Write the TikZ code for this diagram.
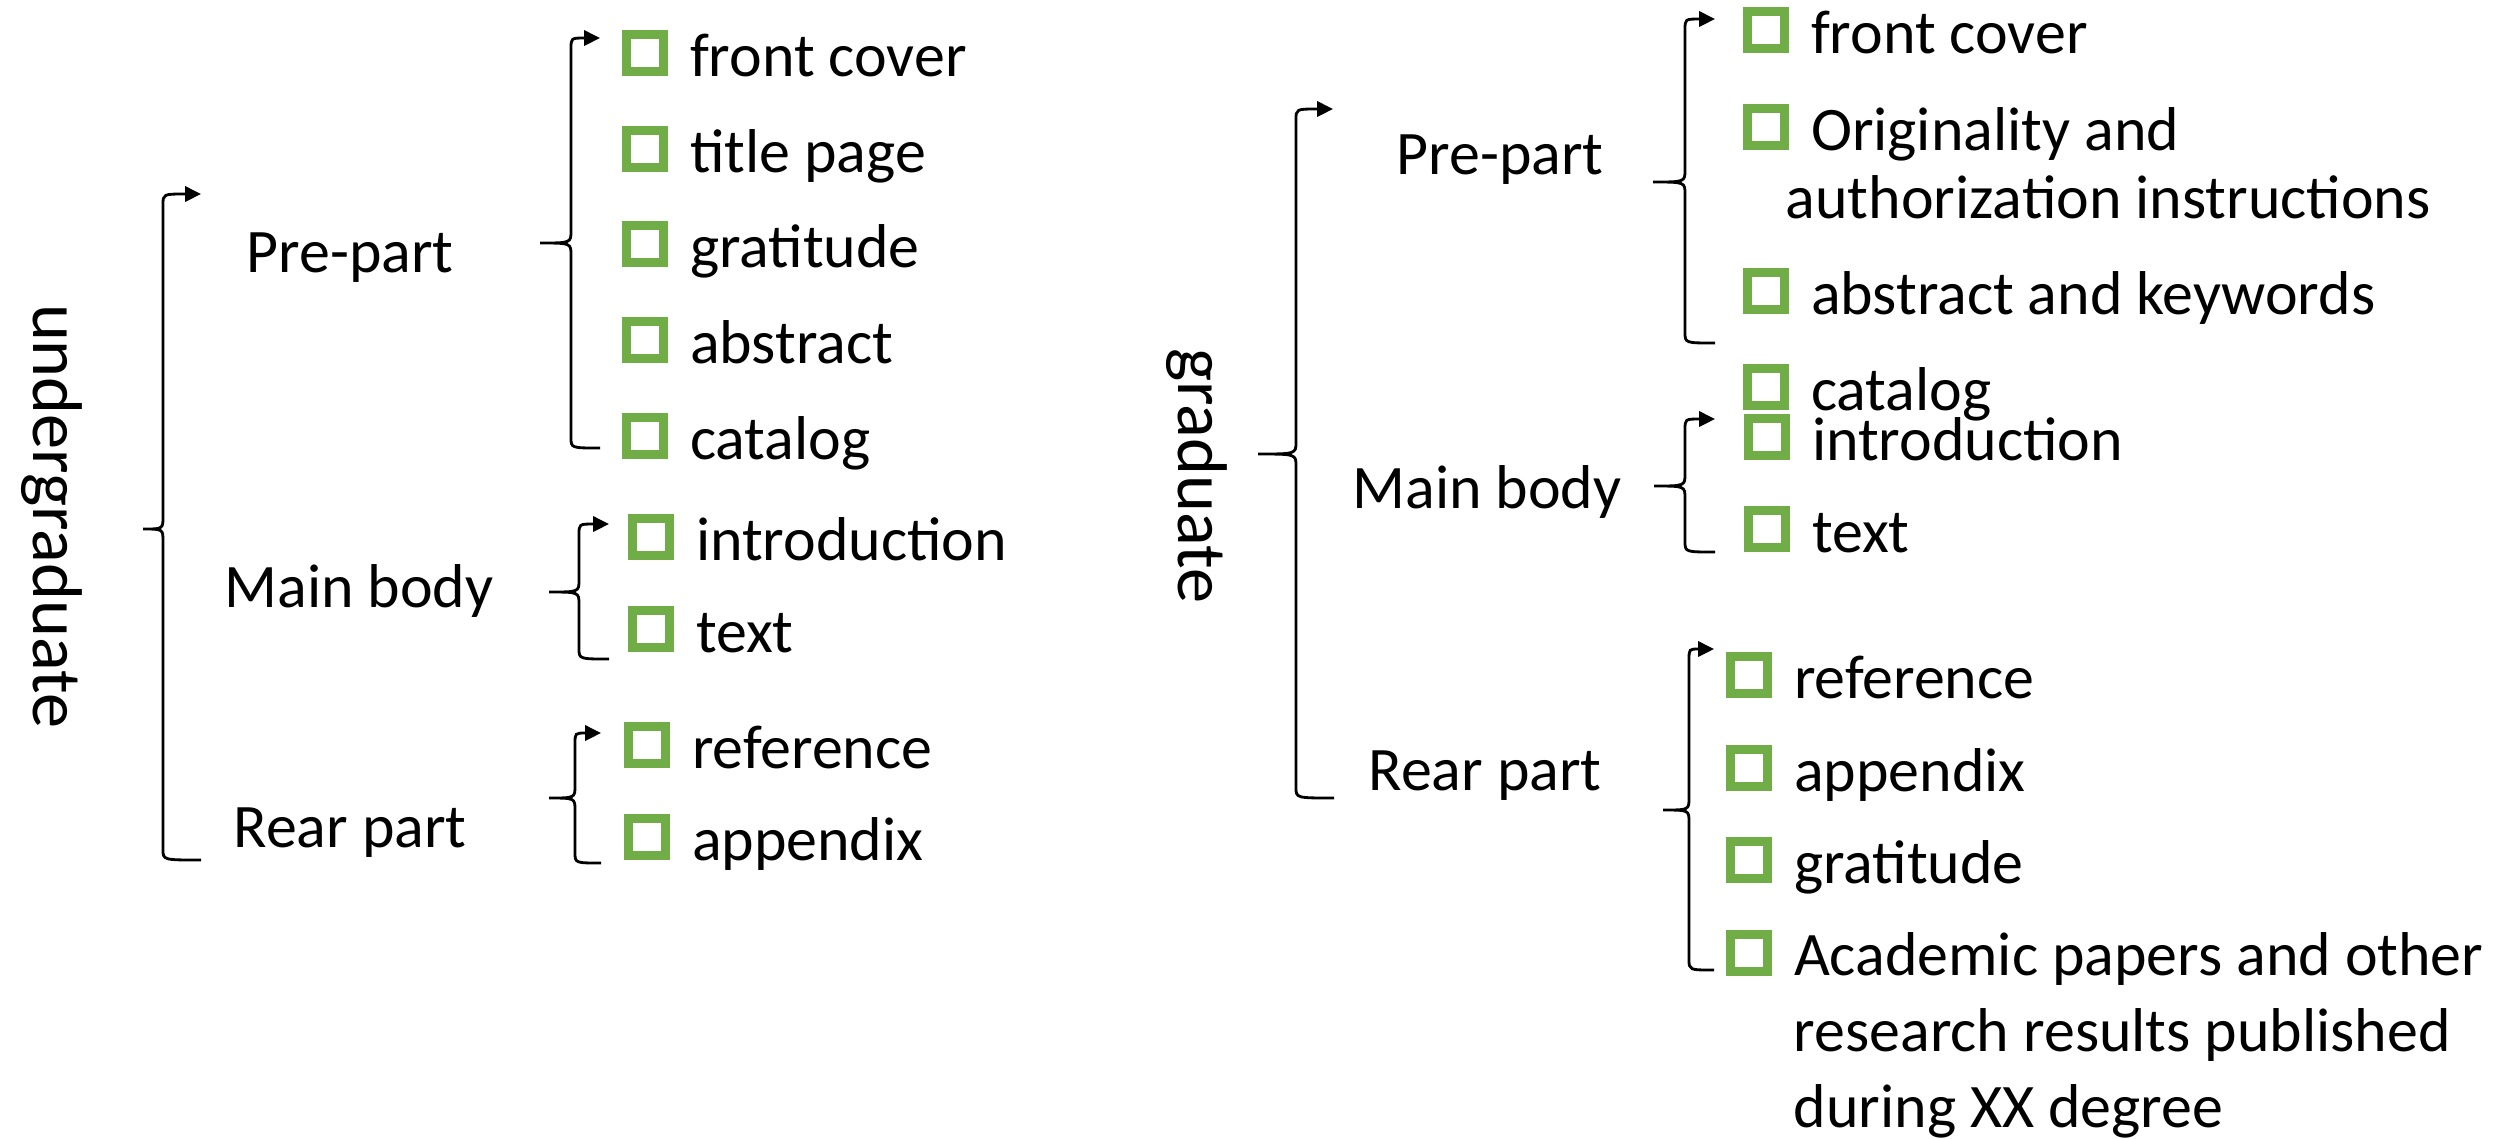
\documentclass[tikz,border=0pt]{standalone}
\usepackage{fontspec}
\setmainfont{Carlito}
\usetikzlibrary{calc,arrows.meta}

\definecolor{chkgreen}{HTML}{70AD47}
\newcommand{\chkbox}{{\setlength{\fboxrule}{2.6pt}\setlength{\fboxsep}{0pt}%
  \raisebox{2.6pt}{\fcolorbox{chkgreen}{white}{\rule{0pt}{0.28cm}\rule{0.28cm}{0pt}}}}\hspace{0.22cm}}
% cusp, top end, bottom end, offset of the spine
\newcommand{\listbrace}[4]{%
  \draw[bracepath] let \p1=(#1), \p2=(#2), \p3=(#3), \p4=($(#1)+(#4,0)$) in
    (\p3) .. controls (\x4,\y3) .. (\x4,\y3+3pt)
    -- (\x4,\y1-3.5pt) .. controls (\x4,\y1) .. (\p1)
    .. controls (\x4,\y1) .. (\x4,\y1+3.5pt)
    -- (\x4,\y2-3pt) .. controls (\x4,\y2) .. (\p2);}

\begin{document}
\begin{tikzpicture}[x=0.01cm,y=-0.01cm,
    bracepath/.style={-{Triangle[length=4.5pt,width=4.3pt]},line width=0.8pt},
    partlbl/.style={anchor=base,inner sep=0pt,font=\fontsize{17.6}{21.5}\selectfont},
    deglbl/.style={anchor=base,rotate=-90,inner sep=0pt,font=\fontsize{20}{24}\selectfont},
    entry/.style={anchor=base west,inner sep=0pt,align=left,font=\fontsize{17.6}{21.5}\selectfont}]
  \useasboundingbox (0,0) rectangle (2504,1138);

  % undergraduate
  \node[deglbl] (ug) at (33,516) {undergraduate};
  \node[partlbl] (upre) at (350,272) {Pre-part};
  \node[partlbl] (umain) at (359,607) {Main body};
  \node[partlbl] (urear) at (350,847) {Rear part};

  \node[entry] (u1) at (621,76) {\chkbox front cover};
  \node[entry] (u2) at (621,172) {\chkbox title page};
  \node[entry] (u3) at (621,267) {\chkbox gratitude};
  \node[entry] (u4) at (621,363) {\chkbox abstract};
  \node[entry] (u5) at (621,459) {\chkbox catalog};
  \node[entry] (u6) at (627,560) {\chkbox introduction};
  \node[entry] (u7) at (627,652) {\chkbox text};
  \node[entry] (u8) at (623,768) {\chkbox reference};
  \node[entry] (u9) at (623,860) {\chkbox appendix};

  \coordinate (ug-c) at (143,529);   \coordinate (ug-t) at (201,194);   \coordinate (ug-b) at (201,860);
  \coordinate (upre-c) at (540,243); \coordinate (upre-t) at (600,38);  \coordinate (upre-b) at (600,448);
  \coordinate (umain-c) at (549,592);\coordinate (umain-t) at (609,524);\coordinate (umain-b) at (609,659);
  \coordinate (urear-c) at (549,798);\coordinate (urear-t) at (601,733);\coordinate (urear-b) at (601,863);
  \listbrace{ug-c}{ug-t}{ug-b}{20}
  \listbrace{upre-c}{upre-t}{upre-b}{31}
  \listbrace{umain-c}{umain-t}{umain-b}{30}
  \listbrace{urear-c}{urear-t}{urear-b}{26}

  % graduate
  \node[deglbl] (gd) at (1178,476) {graduate};
  \node[partlbl] (gpre) at (1500,174) {Pre-part};
  \node[partlbl] (gmain) at (1487,508) {Main body};
  \node[partlbl] (grear) at (1485,790) {Rear part};

  % multi-line entries sit on their last line
  \node[entry] (g1) at (1742,53) {\chkbox front cover};
  \node[entry] (g2) at (1742,218) {\chkbox Originality and\\[-0.08cm]\hspace*{0.43cm}authorization instructions};
  \node[entry] (g3) at (1742,314) {\chkbox abstract and keywords};
  \node[entry] (g4) at (1742,410) {\chkbox catalog};
  \node[entry] (g5) at (1743,460) {\chkbox introduction};
  \node[entry] (g6) at (1743,552) {\chkbox text};
  \node[entry] (g7) at (1725,698) {\chkbox reference};
  \node[entry] (g8) at (1725,791) {\chkbox appendix};
  \node[entry] (g9) at (1725,883) {\chkbox gratitude};
  \node[entry] (g10) at (1725,1127) {\chkbox Academic papers and other\\\hspace*{0.68cm}research results published\\\hspace*{0.68cm}during XX degree};

  \coordinate (gd-c) at (1258,454);   \coordinate (gd-t) at (1333,109);   \coordinate (gd-b) at (1334,798);
  \coordinate (gpre-c) at (1653,182); \coordinate (gpre-t) at (1715,19);  \coordinate (gpre-b) at (1715,343);
  \coordinate (gmain-c) at (1654,486);\coordinate (gmain-t) at (1715,419);\coordinate (gmain-b) at (1715,552);
  \coordinate (grear-c) at (1663,810);\coordinate (grear-t) at (1714,649);\coordinate (grear-b) at (1714,970);
  \listbrace{gd-c}{gd-t}{gd-b}{38}
  \listbrace{gpre-c}{gpre-t}{gpre-b}{32}
  \listbrace{gmain-c}{gmain-t}{gmain-b}{31}
  \listbrace{grear-c}{grear-t}{grear-b}{26}
\end{tikzpicture}
\end{document}
